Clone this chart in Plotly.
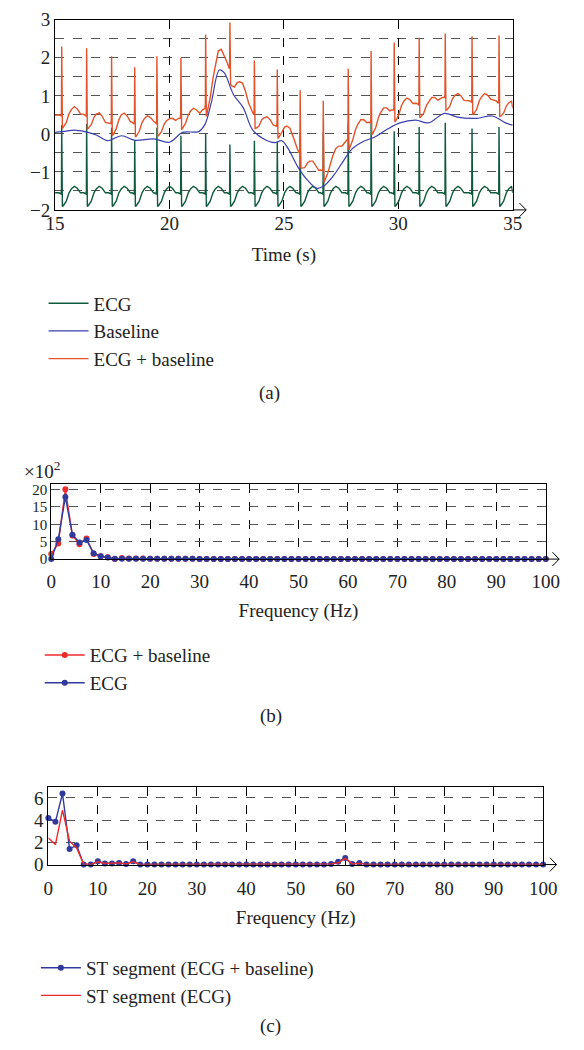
import numpy as np
import plotly.graph_objects as go

FONT = "Liberation Serif"
FS = 19
W, H = 584, 1050

# ---------------- Panel (a) data ----------------
r_times = [15.29, 16.38, 17.47, 18.48, 19.45, 20.50, 21.58, 22.64, 23.71, 24.71,
           25.71, 26.72, 27.81, 28.81, 29.82, 30.91, 32.05, 33.22, 34.40]
ecg_r_peak = [0.23, 0.26, 0.16, -0.16, 0.16, -0.05, 0.00, -0.28, -0.18, -0.21,
              0.04, 0.04, 0.29, 0.29, 0.07, 0.18, 0.29, 0.14, 0.18]
mix_r_peak = [2.30, 2.25, 2.04, 1.75, 2.04, 2.00, 2.61, 2.93, 1.93, 1.69,
              1.15, 0.87, 1.71, 2.18, 2.40, 2.53, 2.64, 2.57, 2.59]
ecg_level = -1.55
mix_offset = 0.45

base_t = [15.0, 15.5, 15.82, 16.3, 16.8, 17.3, 17.9, 18.5, 19.3, 20.0, 20.57, 21.27,
          21.55, 21.83, 22.18, 22.39, 22.8, 23.22, 23.64, 24.2, 24.62, 24.9, 25.18,
          25.6, 26.02, 26.44, 26.72, 27.14, 27.56, 27.97, 28.53, 28.95, 29.51, 30.07,
          30.76, 31.32, 32.02, 32.58, 33.42, 34.11, 34.68, 35.0]
base_v = [0.04, 0.07, 0.10, 0.06, -0.03, -0.18, -0.05, -0.17, -0.13, -0.22, 0.04, 0.06,
          0.25, 0.83, 1.68, 1.61, 1.03, 0.69, 0.10, -0.16, -0.23, -0.18, -0.38,
          -0.86, -1.21, -1.43, -1.38, -1.12, -0.75, -0.40, -0.18, -0.09, 0.12, 0.29,
          0.36, 0.29, 0.54, 0.44, 0.41, 0.47, 0.29, 0.23]

# shape of one heartbeat (time offset from R peak, value above isoelectric level)
beat_dt = [-0.12, -0.03, -0.012, 0.0, 0.03, 0.07, 0.20, 0.32, 0.42, 0.55, 0.68, 0.82]
beat_dv = [0.0, -0.03, 0.05, None, -0.36, -0.34, -0.22, 0.0, 0.10, 0.17, 0.12, 0.0]

# ---------------- Panel (b) data (x10^2) ----------------
freqs = [round(i * 100 / 70, 3) for i in range(71)]
b_mix = [1.5, 4.5, 20.1, 6.8, 4.3, 5.9, 1.5, 0.8, 0.5, 0.0, 0.3, 0.2, 0.15, 0.15, 0.1, 0.1,
         0.1, 0.1, 0.1, 0.1, 0.1, 0.05, 0.05, 0.05, 0.05, 0.05, 0.05, 0.05, 0.05, 0.05,
         0.05, 0.05, 0.05, 0.05, 0.05, 0.05, 0.05, 0.05, 0.05, 0.05, 0.05, 0.05, 0.05,
         0.05, 0.05, 0.05, 0.05, 0.05, 0.05, 0.05, 0.05, 0.05, 0.05, 0.05, 0.05, 0.05,
         0.05, 0.05, 0.05, 0.05, 0.05, 0.05, 0.05, 0.05, 0.05, 0.05, 0.05, 0.05, 0.05,
         0.05, 0.05]
b_ecg = [0.0, 5.7, 17.9, 7.0, 4.8, 5.5, 1.7, 0.85, 0.45, 0.1, 0.1, 0.1, 0.1, 0.1, 0.1, 0.1,
         0.1, 0.1, 0.1, 0.1, 0.1, 0.05, 0.05, 0.05, 0.05, 0.05, 0.05, 0.05, 0.05, 0.05,
         0.05, 0.05, 0.05, 0.05, 0.05, 0.05, 0.05, 0.05, 0.05, 0.05, 0.05, 0.05, 0.05,
         0.05, 0.05, 0.05, 0.05, 0.05, 0.05, 0.05, 0.05, 0.05, 0.05, 0.05, 0.05, 0.05,
         0.05, 0.05, 0.05, 0.05, 0.05, 0.05, 0.05, 0.05, 0.05, 0.05, 0.05, 0.05, 0.05,
         0.05, 0.05]

# ---------------- Panel (c) data ----------------
c_st_mix = [4.2, 3.85, 6.4, 1.4, 1.75, 0.0, 0.0, 0.3, 0.1, 0.1, 0.15, 0.05, 0.3, 0.0, 0.0,
            0.0, 0.0, 0.0, 0.0, 0.0, 0.0, 0.0, 0.0, 0.0, 0.0, 0.0, 0.0, 0.0, 0.0, 0.0,
            0.0, 0.0, 0.0, 0.0, 0.0, 0.0, 0.0, 0.0, 0.0, 0.0, 0.05, 0.25, 0.6, 0.05, 0.15,
            0.0, 0.0, 0.0, 0.0, 0.0, 0.0, 0.0, 0.0, 0.0, 0.0, 0.0, 0.0, 0.0, 0.0, 0.0,
            0.0, 0.0, 0.0, 0.0, 0.0, 0.0, 0.0, 0.0, 0.0, 0.0, 0.0]
c_st_ecg = [2.4, 1.8, 4.9, 2.1, 1.5, 0.05, 0.0, 0.25, 0.1, 0.1, 0.15, 0.05, 0.25, 0.0, 0.0,
            0.0, 0.0, 0.0, 0.0, 0.0, 0.0, 0.0, 0.0, 0.0, 0.0, 0.0, 0.0, 0.0, 0.0, 0.0,
            0.0, 0.0, 0.0, 0.0, 0.0, 0.0, 0.0, 0.0, 0.0, 0.0, 0.05, 0.15, 0.55, 0.05, 0.1,
            0.0, 0.0, 0.0, 0.0, 0.0, 0.0, 0.0, 0.0, 0.0, 0.0, 0.0, 0.0, 0.0, 0.0, 0.0,
            0.0, 0.0, 0.0, 0.0, 0.0, 0.0, 0.0, 0.0, 0.0, 0.0, 0.0]


def baseline_at(t):
    return float(np.interp(t, base_t, base_v))


def build_trace(level_fn, peaks):
    t, v = [15.0], [level_fn(15.0)]
    for r, p in zip(r_times, peaks):
        for dt, dv in zip(beat_dt, beat_dv):
            tt = r + dt
            if tt <= 15.0 or tt >= 35.0:
                continue
            t.append(tt)
            v.append(p if dv is None else level_fn(tt) + dv)
    t.append(35.0)
    v.append(level_fn(35.0))
    return t, v


ecg_t, ecg_v = build_trace(lambda tt: ecg_level, ecg_r_peak)
mix_t, mix_v = build_trace(lambda tt: baseline_at(tt) + mix_offset, mix_r_peak)

GREEN = "#0f5a3c"
BLUE_A = "#3a3fae"
ORANGE = "#e2532b"
RED = "#ee2b2b"
BLUE = "#303a9c"

fig = go.Figure()

fig.add_trace(go.Scatter(x=ecg_t, y=ecg_v, mode="lines", name="ECG",
                         line=dict(color=GREEN, width=1.4), xaxis="x", yaxis="y",
                         legend="legend", legendgroup="a1"))
fig.add_trace(go.Scatter(x=base_t, y=base_v, mode="lines", name="Baseline",
                         line=dict(color=BLUE_A, width=1.2, shape="spline"),
                         xaxis="x", yaxis="y", legend="legend", legendgroup="a2"))
fig.add_trace(go.Scatter(x=mix_t, y=mix_v, mode="lines", name="ECG + baseline",
                         line=dict(color=ORANGE, width=1.4), xaxis="x", yaxis="y",
                         legend="legend", legendgroup="a3"))

fig.add_trace(go.Scatter(x=freqs, y=b_mix, mode="lines+markers", name="ECG + baseline",
                         line=dict(color=RED, width=1.4), marker=dict(size=6, color=RED),
                         xaxis="x2", yaxis="y2", legend="legend2", legendgroup="b1",
                         cliponaxis=False))
fig.add_trace(go.Scatter(x=freqs, y=b_ecg, mode="lines+markers", name="ECG",
                         line=dict(color=BLUE, width=1.4), marker=dict(size=6, color=BLUE),
                         xaxis="x2", yaxis="y2", legend="legend2", legendgroup="b2",
                         cliponaxis=False))

fig.add_trace(go.Scatter(x=freqs, y=c_st_mix, mode="lines+markers",
                         name="ST segment (ECG + baseline)",
                         line=dict(color=BLUE, width=1.4), marker=dict(size=6, color=BLUE),
                         xaxis="x3", yaxis="y3", legend="legend3", legendgroup="c1",
                         cliponaxis=False))
fig.add_trace(go.Scatter(x=freqs, y=c_st_ecg, mode="lines", name="ST segment (ECG)",
                         line=dict(color=RED, width=1.4),
                         xaxis="x3", yaxis="y3", legend="legend3", legendgroup="c2",
                         cliponaxis=False))


def px(x):
    return x / W


def py(y):
    return 1 - y / H


tickfont = dict(family=FONT, size=FS, color="#222")
common_x = dict(showline=True, linecolor="black", linewidth=1, mirror=True,
                ticks="", zeroline=False, tickfont=tickfont,
                showgrid=True, gridcolor="black", gridwidth=1, griddash="dash")
common_y = dict(showline=True, linecolor="black", linewidth=1, mirror=True,
                ticks="", zeroline=False, tickfont=tickfont,
                showgrid=True, gridcolor="#555555", gridwidth=1, griddash="dash")

panels = {
    "a": dict(x0=47, x1=524.3, y0=10, y1=204),
    "b": dict(x0=43, x1=558.7, y0=483.7, y1=560.3),
    "c": dict(x0=40, x1=556, y0=792.7, y1=872),
}

legend_common = dict(xanchor="left", yanchor="top", bgcolor="rgba(0,0,0,0)",
                     font=dict(family=FONT, size=FS, color="#222"),
                     tracegroupgap=0, itemwidth=40)

fig.update_layout(
    width=W, height=H, margin=dict(l=0, r=0, t=0, b=0),
    paper_bgcolor="white", plot_bgcolor="white",
    font=dict(family=FONT, size=FS, color="#222"),
    xaxis=dict(common_x, domain=[px(47), px(524.3)], range=[15, 35],
               tickvals=[15, 20, 25, 30, 35], anchor="y", ticklabelstandoff=-4,
               title=dict(text="Time (s)", font=dict(family=FONT, size=FS), standoff=14)),
    yaxis=dict(common_y, domain=[py(204), py(10)], range=[-2, 3],
               tickvals=[-2, -1, 0, 1, 2, 3], anchor="x",
               minor=dict(dtick=0.5, tick0=0, showgrid=True, gridcolor="#555555",
                          griddash="dash", gridwidth=1)),
    xaxis2=dict(common_x, domain=[px(43), px(558.7)], range=[0, 100], dtick=10,
                anchor="y2", ticklabelstandoff=5,
                title=dict(text="Frequency (Hz)", font=dict(family=FONT, size=FS), standoff=12)),
    yaxis2=dict(common_y, domain=[py(560.3), py(483.7)], range=[0, 21.6],
                tickvals=[0, 5, 10, 15, 20], anchor="x2",
                tickfont=dict(family=FONT, size=15, color="#222")),
    xaxis3=dict(common_x, domain=[px(40), px(556)], range=[0, 100], dtick=10,
                anchor="y3", ticklabelstandoff=7,
                title=dict(text="Frequency (Hz)", font=dict(family=FONT, size=FS), standoff=12)),
    yaxis3=dict(common_y, domain=[py(872), py(792.7)], range=[0, 7],
                tickvals=[0, 2, 4, 6], anchor="x3"),
    legend=dict(legend_common, x=px(35), y=py(280)),
    legend2=dict(legend_common, x=px(31), y=py(639)),
    legend3=dict(legend_common, x=px(27), y=py(958)),
)

# arrows at the end of each x axis
shapes = []
for key, p in panels.items():
    tipx = p["x1"] + 14
    shapes.append(dict(type="line", xref="paper", yref="paper",
                       x0=px(p["x1"]), x1=px(tipx), y0=py(p["y1"]), y1=py(p["y1"]),
                       line=dict(color="black", width=1)))
    for s in (-7, 7):
        shapes.append(dict(type="line", xref="paper", yref="paper",
                           x0=px(tipx - 7), x1=px(tipx), y0=py(p["y1"] + s), y1=py(p["y1"]),
                           line=dict(color="black", width=1)))
fig.update_layout(shapes=shapes)

annotations = [
    dict(text="(a)", x=px(271), y=py(391)),
    dict(text="(b)", x=px(272), y=py(720)),
    dict(text="(c)", x=px(272), y=py(1037)),
    dict(text="×10<sup>2</sup>", x=px(33), y=py(469)),
]
for a in annotations:
    a.update(xref="paper", yref="paper", showarrow=False, xanchor="center", yanchor="middle",
             font=dict(family=FONT, size=FS, color="#222"))
fig.update_layout(annotations=annotations)

fig.write_html("out.html")
